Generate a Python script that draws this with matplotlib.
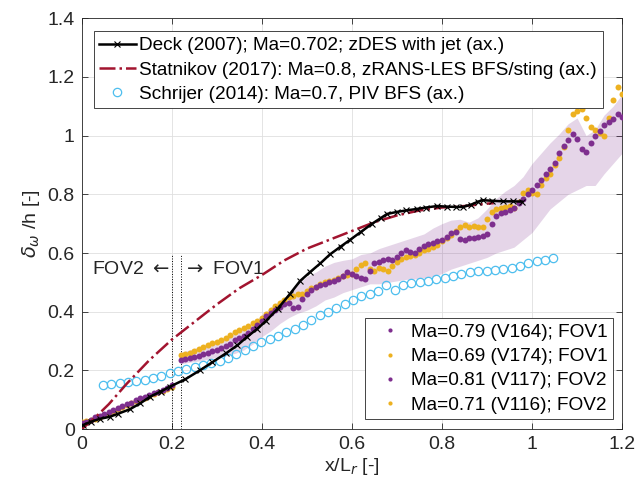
import numpy as np
import matplotlib.pyplot as plt
from matplotlib.ticker import FuncFormatter

plt.rcParams['font.family'] = ['Liberation Sans', 'DejaVu Sans']

# Deck (2007) zDES with jet
deck_x = [0.003, 0.02, 0.04, 0.062, 0.08, 0.107, 0.13, 0.151, 0.175, 0.196, 0.23, 0.262,
          0.29, 0.32, 0.345, 0.366, 0.39, 0.41, 0.435, 0.462, 0.485, 0.507, 0.53, 0.551,
          0.575, 0.596, 0.62, 0.645, 0.665, 0.678, 0.7, 0.72, 0.744, 0.765, 0.789, 0.81,
          0.83, 0.847, 0.865, 0.88, 0.89, 0.91, 0.935, 0.958, 0.978]
deck_y = [0.014, 0.025, 0.035, 0.042, 0.052, 0.068, 0.088, 0.11, 0.128, 0.145, 0.17, 0.2,
          0.228, 0.258, 0.285, 0.313, 0.342, 0.37, 0.41, 0.46, 0.505, 0.535, 0.565, 0.595,
          0.622, 0.645, 0.672, 0.7, 0.72, 0.733, 0.74, 0.745, 0.75, 0.755, 0.76, 0.758,
          0.757, 0.757, 0.765, 0.775, 0.78, 0.778, 0.776, 0.776, 0.775]

# Statnikov (2017) zRANS-LES
stat_x = [0.0, 0.03, 0.06, 0.1, 0.15, 0.2, 0.25, 0.3, 0.35, 0.4, 0.45, 0.5, 0.55, 0.6,
          0.65, 0.7, 0.75, 0.8, 0.85, 0.9, 0.915]
stat_y = [0.0, 0.04, 0.085, 0.155, 0.235, 0.305, 0.365, 0.425, 0.48, 0.525, 0.575, 0.615,
          0.645, 0.675, 0.705, 0.728, 0.745, 0.755, 0.76, 0.768, 0.77]

# Schrijer (2014) PIV
schr_x = np.linspace(0.047, 1.047, 55)
schr_y = [0.150, 0.155, 0.158, 0.160, 0.163, 0.167, 0.173, 0.180, 0.190, 0.198, 0.205,
          0.212, 0.218, 0.225, 0.232, 0.243, 0.255, 0.270, 0.283, 0.297, 0.308, 0.318,
          0.330, 0.342, 0.355, 0.372, 0.388, 0.398, 0.412, 0.425, 0.440, 0.455, 0.462,
          0.470, 0.490, 0.475, 0.492, 0.497, 0.500, 0.505, 0.510, 0.515, 0.520, 0.530,
          0.535, 0.537, 0.540, 0.543, 0.546, 0.548, 0.556, 0.566, 0.572, 0.575, 0.582]

# PIV, FOV2
fov2_x = np.linspace(0.0, 0.2, 21)
v117_y = [0.02, 0.025, 0.032, 0.04, 0.045, 0.05, 0.058, 0.065, 0.072, 0.078, 0.085,
          0.09, 0.098, 0.105, 0.11, 0.115, 0.122, 0.128, 0.133, 0.14, 0.15]
v116_y = [0.026, 0.027, 0.03, 0.036, 0.042, 0.048, 0.055, 0.061, 0.069, 0.076, 0.082,
          0.089, 0.095, 0.101, 0.107, 0.113, 0.118, 0.125, 0.131, 0.137, 0.142]

# PIV, FOV1
fov1_x = np.linspace(0.22, 1.2, 99)
v164_y = [0.235, 0.238, 0.242, 0.245, 0.25, 0.256, 0.26, 0.266, 0.27, 0.277, 0.283,
          0.29, 0.302, 0.31, 0.318, 0.326, 0.34, 0.355, 0.37, 0.385, 0.395, 0.405,
          0.417, 0.425, 0.428, 0.412, 0.415, 0.445, 0.46, 0.475, 0.485, 0.49, 0.495,
          0.5, 0.503, 0.51, 0.52, 0.535, 0.53, 0.52, 0.515, 0.512, 0.54, 0.565, 0.57,
          0.575, 0.578, 0.575, 0.585, 0.6, 0.61, 0.605, 0.6, 0.612, 0.625, 0.63, 0.635,
          0.64, 0.645, 0.655, 0.668, 0.672, 0.648, 0.645, 0.65, 0.652, 0.655, 0.658,
          0.665, 0.7, 0.725, 0.735, 0.74, 0.745, 0.755, 0.77, 0.785, 0.8, 0.815, 0.83,
          0.85, 0.87, 0.885, 0.905, 0.94, 0.965, 0.985, 1.005, 0.99, 0.955, 0.945,
          0.975, 1.0, 1.015, 1.035, 1.045, 1.055, 1.075, 1.065]
v174_y = [0.252, 0.256, 0.26, 0.265, 0.272, 0.28, 0.285, 0.292, 0.298, 0.305, 0.312,
          0.32, 0.33, 0.338, 0.345, 0.352, 0.36, 0.37, 0.38, 0.393, 0.405, 0.418, 0.428,
          0.44, 0.45, 0.455, 0.46, 0.462, 0.47, 0.48, 0.485, 0.495, 0.5, 0.505, 0.508,
          0.515, 0.52, 0.525, 0.53, 0.545, 0.56, 0.565, 0.545, 0.54, 0.55, 0.545, 0.54,
          0.555, 0.57, 0.58, 0.585, 0.59, 0.593, 0.6, 0.61, 0.615, 0.62, 0.628, 0.64,
          0.65, 0.66, 0.675, 0.69, 0.695, 0.69, 0.692, 0.69, 0.688, 0.715, 0.74, 0.75,
          0.755, 0.757, 0.76, 0.755, 0.775, 0.805, 0.815, 0.805, 0.8, 0.83, 0.855, 0.87,
          0.9, 0.925, 0.96, 1.02, 1.075, 1.085, 1.09, 1.06, 1.03, 1.02, 1.01, 1.0, 1.06,
          1.12, 1.165, 1.14]

# spread band for FOV1
band_x = np.linspace(0.22, 1.2, 50)
band_lo = [0.222, 0.228, 0.232, 0.238, 0.245, 0.25, 0.258, 0.27, 0.29, 0.315, 0.335,
           0.36, 0.38, 0.395, 0.405, 0.42, 0.44, 0.45, 0.465, 0.475, 0.485, 0.495, 0.495,
           0.5, 0.505, 0.51, 0.512, 0.515, 0.52, 0.53, 0.545, 0.555, 0.565, 0.575, 0.585,
           0.6, 0.61, 0.62, 0.645, 0.67, 0.71, 0.75, 0.775, 0.8, 0.815, 0.83, 0.83, 0.87,
           0.905, 0.94]
band_hi = [0.262, 0.27, 0.28, 0.29, 0.3, 0.31, 0.325, 0.34, 0.36, 0.39, 0.415, 0.44,
           0.46, 0.495, 0.52, 0.535, 0.555, 0.568, 0.575, 0.58, 0.595, 0.6, 0.615, 0.625,
           0.635, 0.645, 0.655, 0.665, 0.685, 0.7, 0.712, 0.715, 0.705, 0.72, 0.75, 0.785,
           0.81, 0.83, 0.86, 0.905, 0.94, 0.975, 1.005, 1.04, 1.06, 1.0, 1.02, 1.07, 1.1,
           1.14]

purple = '#7E2F8E'
orange = '#EDB120'
cyan = '#4DBEEE'
red = '#A2142F'
ink = '#262626'
fs = 14
lfs = 13.7

fig = plt.figure(figsize=(6.44, 4.91), dpi=100)
ax = fig.add_axes([0.127, 0.126, 0.839, 0.837])

ax.fill_between(band_x, band_lo, band_hi, color=purple, alpha=0.2, lw=0, zorder=1)

ax.plot([0.2, 0.2], [0, 0.595], ':', color='k', lw=0.7, zorder=2)
ax.plot([0.22, 0.22], [0, 0.595], ':', color='k', lw=0.7, zorder=2)

dot = dict(marker='o', ls='none', ms=4.3, mew=0)
h174, = ax.plot(fov1_x, v174_y, color=orange, zorder=3, label='Ma=0.69 (V174); FOV1', **dot)
h164, = ax.plot(fov1_x, v164_y, color=purple, zorder=4, label='Ma=0.79 (V164); FOV1', **dot)
h116, = ax.plot(fov2_x, v116_y, color=orange, zorder=3, label='Ma=0.71 (V116); FOV2', **dot)
h117, = ax.plot(fov2_x, v117_y, color=purple, zorder=4, label='Ma=0.81 (V117); FOV2', **dot)

hs, = ax.plot(schr_x, schr_y, 'o', mfc='none', mec=cyan, ms=6, mew=0.9, zorder=5,
              label='Schrijer (2014): Ma=0.7, PIV BFS (ax.)')
hst, = ax.plot(stat_x, stat_y, '-.', color=red, lw=1.8, zorder=6,
               label='Statnikov (2017): Ma=0.8, zRANS-LES BFS/sting (ax.)')
hd, = ax.plot(deck_x, deck_y, '-x', color='k', lw=1.8, ms=4, mew=0.8, zorder=7,
              label='Deck (2007); Ma=0.702; zDES with jet (ax.)')

ax.text(0.195, 0.545, r'FOV2 $\leftarrow$', ha='right', va='center', fontsize=fs, color=ink)
ax.text(0.225, 0.545, r'$\rightarrow$ FOV1', ha='left', va='center', fontsize=fs, color=ink)

ax.set_xlim(0, 1.2)
ax.set_ylim(0, 1.4)
ax.set_xticks(np.arange(0, 1.21, 0.2))
ax.set_yticks(np.arange(0, 1.41, 0.2))
fmt = FuncFormatter(lambda v, p: '%g' % round(v, 2))
ax.xaxis.set_major_formatter(fmt)
ax.yaxis.set_major_formatter(fmt)
ax.tick_params(direction='in', top=True, right=True, labelsize=fs, colors=ink,
               length=4, width=0.6, pad=5)
for s in ax.spines.values():
    s.set_color(ink)
    s.set_linewidth(0.6)
ax.grid(True, color='#DFDFDF', lw=0.6)
ax.set_axisbelow(True)

ax.set_xlabel(r'x/L$_r$ [-]', fontsize=fs, color=ink, labelpad=2)
ax.set_ylabel(r'$\delta_\omega$ /h [-]', fontsize=fs, color=ink, labelpad=4)

leg1 = ax.legend(handles=[hd, hst, hs], loc='upper left', bbox_to_anchor=(0.022, 0.968),
                 borderaxespad=0, fontsize=lfs, fancybox=False, framealpha=1,
                 edgecolor=ink, handlelength=1.9, labelspacing=0.36, numpoints=1,
                 borderpad=0.3, handletextpad=0.2)
leg1.get_frame().set_linewidth(0.6)
ax.add_artist(leg1)

leg2 = ax.legend(handles=[h164, h174, h117, h116], loc='lower right',
                 bbox_to_anchor=(0.983, 0.024), borderaxespad=0, fontsize=lfs,
                 fancybox=False, framealpha=1, edgecolor=ink, handlelength=2.0,
                 labelspacing=0.36, borderpad=0.3, handletextpad=0.1, markerscale=0.7)
leg2.get_frame().set_linewidth(0.6)

fig.savefig('out.png', dpi=100)
